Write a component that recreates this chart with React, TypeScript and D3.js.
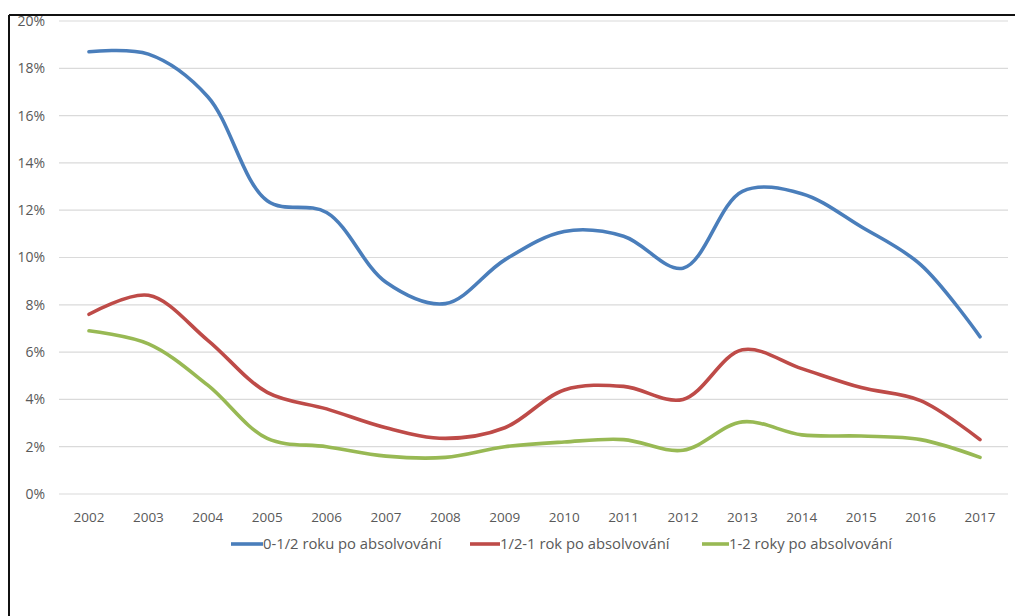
import React from "react";
import * as d3 from "d3";

const years = ["2002","2003","2004","2005","2006","2007","2008","2009","2010","2011","2012","2013","2014","2015","2016","2017"];
const halfYear = [18.7, 18.6, 16.8, 12.4, 11.9, 8.95, 8.05, 9.9, 11.1, 10.9, 9.55, 12.8, 12.7, 11.3, 9.7, 6.65];
const halfToOne = [7.6, 8.4, 6.5, 4.3, 3.6, 2.8, 2.35, 2.8, 4.4, 4.55, 4.0, 6.1, 5.3, 4.5, 3.95, 2.3];
const oneToTwo = [6.9, 6.35, 4.6, 2.35, 2.0, 1.6, 1.55, 2.0, 2.2, 2.3, 1.85, 3.05, 2.5, 2.45, 2.3, 1.55];
const yTicks = [0, 2, 4, 6, 8, 10, 12, 14, 16, 18, 20];

const seriesNames = ["0-1/2 roku po absolvování", "1/2-1 rok po absolvování", "1-2 roky po absolvování"];
const seriesColors = ["#4a7ebb", "#be4b48", "#98b954"];
const seriesValues = [halfYear, halfToOne, oneToTwo];

const W = 1015;
const H = 616;
const FONT = "'Open Sans', Lato, sans-serif";

export default function App() {
  const x = d3.scalePoint<string>().domain(years).range([89, 980]);
  const y = d3.scaleLinear().domain([0, 20]).range([494, 21]);

  const line = d3
    .line<number>()
    .x((_, i) => x(years[i]) as number)
    .y((d) => y(d))
    .curve(d3.curveCatmullRom.alpha(0.5));

  const legendItems = [
    { lx: 231, len: 32 },
    { lx: 470, len: 30 },
    { lx: 702, len: 27 },
  ];

  return (
    <svg
      width={W}
      height={H}
      style={{ position: "absolute", left: 0, top: 0, background: "#fff" }}
      fontFamily={FONT}
    >
      <rect x={0} y={0} width={W} height={H} fill="#fff" />
      {/* frame */}
      <line x1={9} y1={15} x2={W} y2={15} stroke="#111" strokeWidth={2} />
      <line x1={9} y1={15} x2={9} y2={H} stroke="#111" strokeWidth={2} />

      {/* gridlines + y labels */}
      {yTicks.map((t) => (
        <g key={t}>
          <line x1={59} x2={1008} y1={y(t)} y2={y(t)} stroke="#dadada" strokeWidth={1.2} />
          <text
            x={45}
            y={y(t)}
            dy="0.35em"
            textAnchor="end"
            fontSize={14}
            fill="#595959"
          >
            {t}%
          </text>
        </g>
      ))}

      {/* x labels */}
      {years.map((yr) => (
        <text
          key={yr}
          x={x(yr) as number}
          y={522}
          textAnchor="middle"
          fontSize={13.5}
          fill="#595959"
        >
          {yr}
        </text>
      ))}

      {/* series */}
      {seriesValues.map((vals, i) => (
        <path
          key={seriesNames[i]}
          d={line(vals) || ""}
          fill="none"
          stroke={seriesColors[i]}
          strokeWidth={3.6}
          strokeLinecap="round"
          strokeLinejoin="round"
        />
      ))}

      {/* legend */}
      {legendItems.map((it, i) => (
        <g key={seriesNames[i]}>
          <line
            x1={it.lx}
            x2={it.lx + it.len}
            y1={544}
            y2={544}
            stroke={seriesColors[i]}
            strokeWidth={3.6}
          />
          <text x={it.lx + it.len} y={544} dy="0.35em" fontSize={14.8} fill="#595959">
            {seriesNames[i]}
          </text>
        </g>
      ))}
    </svg>
  );
}
